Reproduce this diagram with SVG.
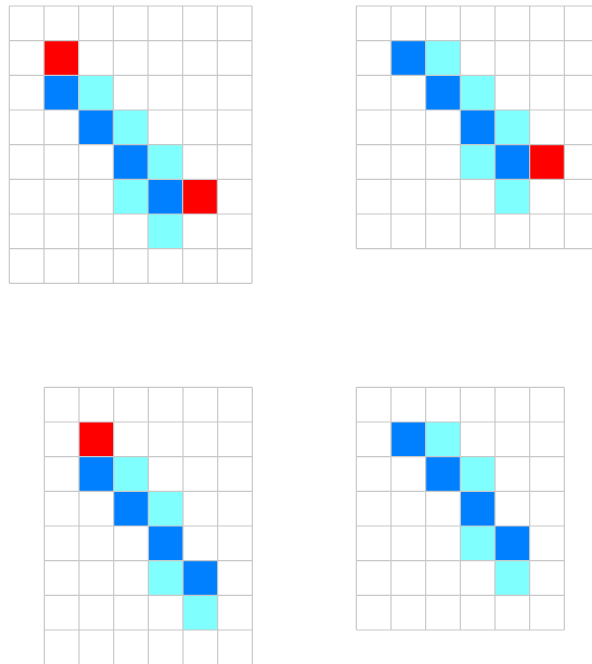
<svg xmlns="http://www.w3.org/2000/svg" width="592" height="664" viewBox="0 0 592 664">
<style>
.g{fill:none;stroke:#c8c8c8;stroke-width:1.2}
.r{fill:#ff0000}
.b{fill:#0080ff}
.c{fill:#80ffff}
</style>
<rect width="592" height="664" fill="#fff"/>
<g id="grid1" transform="translate(9.33,6)">
<rect class="r" x="34.667" y="34.667" width="34.667" height="34.667"/>
<rect class="b" x="34.667" y="69.333" width="34.667" height="34.667"/>
<rect class="c" x="69.333" y="69.333" width="34.667" height="34.667"/>
<rect class="b" x="69.333" y="104" width="34.667" height="34.667"/>
<rect class="c" x="104" y="104" width="34.667" height="34.667"/>
<rect class="b" x="104" y="138.667" width="34.667" height="34.667"/>
<rect class="c" x="138.667" y="138.667" width="34.667" height="34.667"/>
<rect class="c" x="104" y="173.333" width="34.667" height="34.667"/>
<rect class="b" x="138.667" y="173.333" width="34.667" height="34.667"/>
<rect class="r" x="173.333" y="173.333" width="34.667" height="34.667"/>
<rect class="c" x="138.667" y="208" width="34.667" height="34.667"/>
<path class="g" d="M0 0V277.333M34.667 0V277.333M69.333 0V277.333M104 0V277.333M138.667 0V277.333M173.333 0V277.333M208 0V277.333M242.667 0V277.333M0 0H242.667M0 34.667H242.667M0 69.333H242.667M0 104H242.667M0 138.667H242.667M0 173.333H242.667M0 208H242.667M0 242.667H242.667M0 277.333H242.667"/>
</g>
<g id="grid2" transform="translate(356.33,6)">
<rect class="b" x="34.667" y="34.667" width="34.667" height="34.667"/>
<rect class="c" x="69.333" y="34.667" width="34.667" height="34.667"/>
<rect class="b" x="69.333" y="69.333" width="34.667" height="34.667"/>
<rect class="c" x="104" y="69.333" width="34.667" height="34.667"/>
<rect class="b" x="104" y="104" width="34.667" height="34.667"/>
<rect class="c" x="138.667" y="104" width="34.667" height="34.667"/>
<rect class="c" x="104" y="138.667" width="34.667" height="34.667"/>
<rect class="b" x="138.667" y="138.667" width="34.667" height="34.667"/>
<rect class="r" x="173.333" y="138.667" width="34.667" height="34.667"/>
<rect class="c" x="138.667" y="173.333" width="34.667" height="34.667"/>
<path class="g" d="M0 0V242.667M34.667 0V242.667M69.333 0V242.667M104 0V242.667M138.667 0V242.667M173.333 0V242.667M208 0V242.667M242.667 0V242.667M0 0H242.667M0 34.667H242.667M0 69.333H242.667M0 104H242.667M0 138.667H242.667M0 173.333H242.667M0 208H242.667M0 242.667H242.667"/>
</g>
<g id="grid3" transform="translate(44.33,387.33)">
<rect class="r" x="34.667" y="34.667" width="34.667" height="34.667"/>
<rect class="b" x="34.667" y="69.333" width="34.667" height="34.667"/>
<rect class="c" x="69.333" y="69.333" width="34.667" height="34.667"/>
<rect class="b" x="69.333" y="104" width="34.667" height="34.667"/>
<rect class="c" x="104" y="104" width="34.667" height="34.667"/>
<rect class="b" x="104" y="138.667" width="34.667" height="34.667"/>
<rect class="c" x="104" y="173.333" width="34.667" height="34.667"/>
<rect class="b" x="138.667" y="173.333" width="34.667" height="34.667"/>
<rect class="c" x="138.667" y="208" width="34.667" height="34.667"/>
<path class="g" d="M0 0V277.333M34.667 0V277.333M69.333 0V277.333M104 0V277.333M138.667 0V277.333M173.333 0V277.333M208 0V277.333M0 0H208M0 34.667H208M0 69.333H208M0 104H208M0 138.667H208M0 173.333H208M0 208H208M0 242.667H208M0 277.333H208"/>
</g>
<g id="grid4" transform="translate(356.33,387.33)">
<rect class="b" x="34.667" y="34.667" width="34.667" height="34.667"/>
<rect class="c" x="69.333" y="34.667" width="34.667" height="34.667"/>
<rect class="b" x="69.333" y="69.333" width="34.667" height="34.667"/>
<rect class="c" x="104" y="69.333" width="34.667" height="34.667"/>
<rect class="b" x="104" y="104" width="34.667" height="34.667"/>
<rect class="c" x="104" y="138.667" width="34.667" height="34.667"/>
<rect class="b" x="138.667" y="138.667" width="34.667" height="34.667"/>
<rect class="c" x="138.667" y="173.333" width="34.667" height="34.667"/>
<path class="g" d="M0 0V242.667M34.667 0V242.667M69.333 0V242.667M104 0V242.667M138.667 0V242.667M173.333 0V242.667M208 0V242.667M0 0H208M0 34.667H208M0 69.333H208M0 104H208M0 138.667H208M0 173.333H208M0 208H208M0 242.667H208"/>
</g>
</svg>
